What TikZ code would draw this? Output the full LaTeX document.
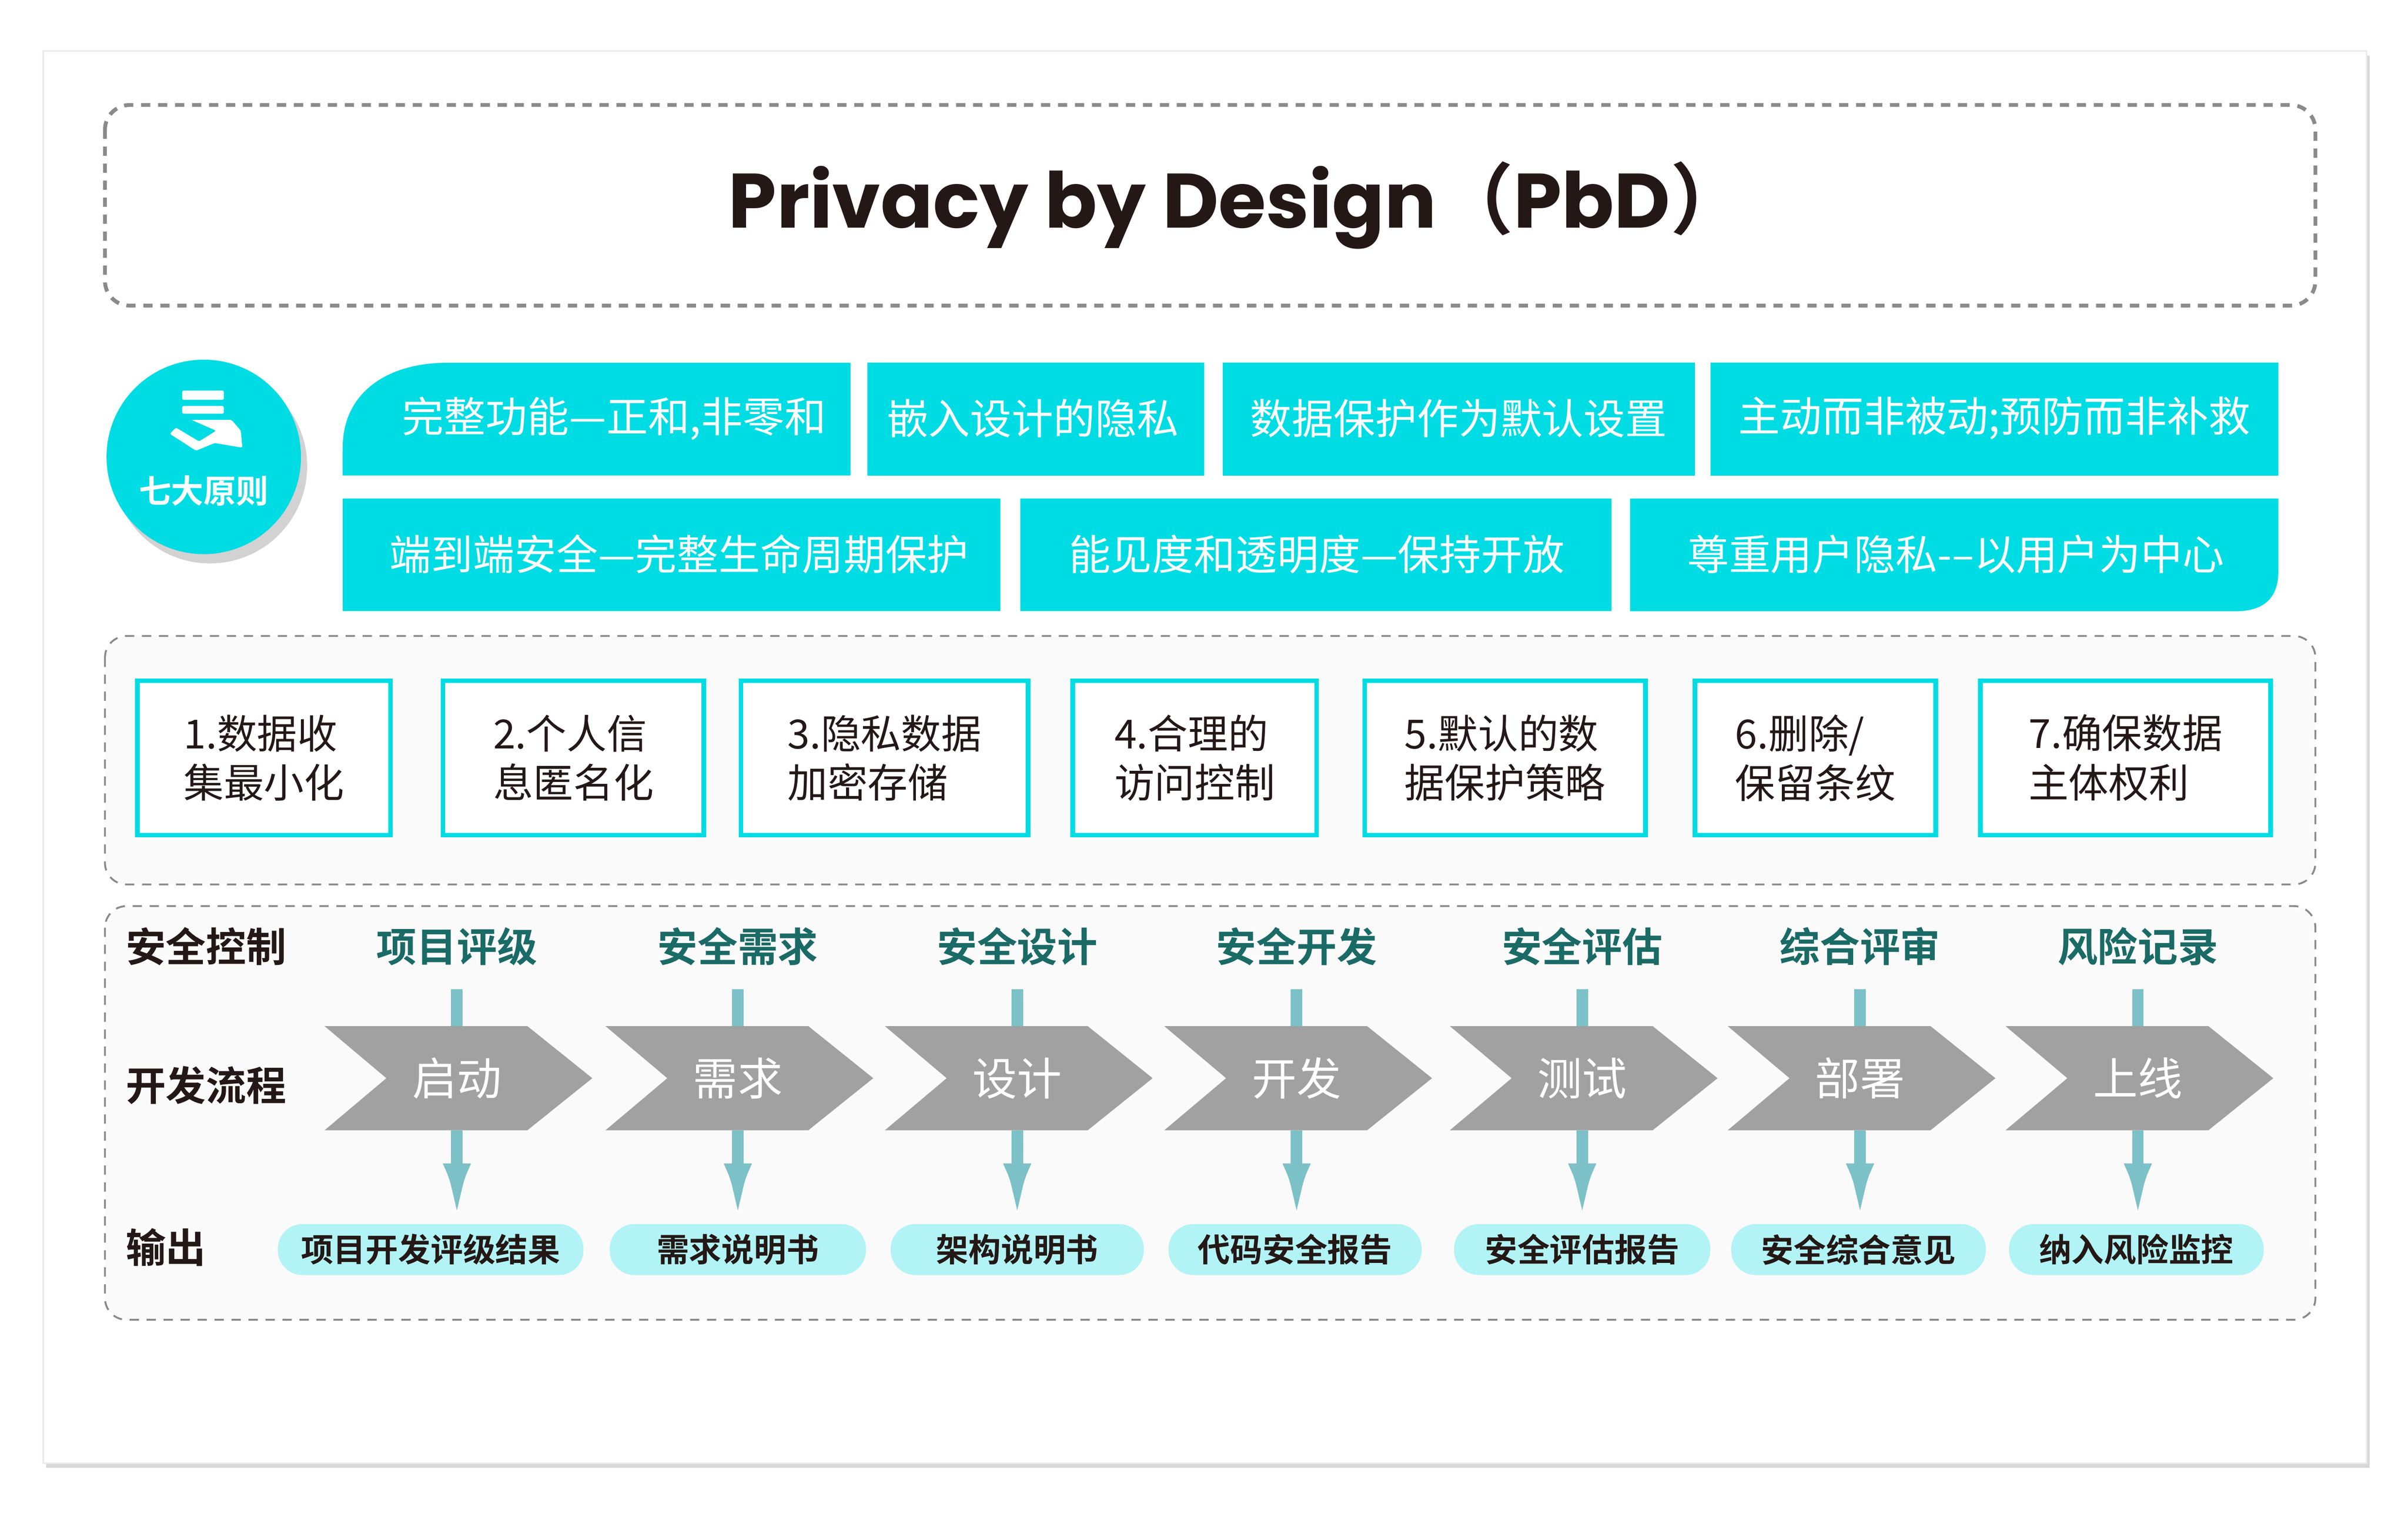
\documentclass[tikz,border=0pt]{standalone}
\usepackage{fontspec}
\setmainfont{Noto Sans CJK SC}[BoldFont={Noto Sans CJK SC Bold}]
\newfontfamily\pop{Poppins}
\usetikzlibrary{shadows,arrows.meta}
\definecolor{cy}{HTML}{00DCE3}
\definecolor{tealt}{HTML}{1A6A66}
\definecolor{chg}{HTML}{A0A1A0}
\definecolor{pillc}{HTML}{B2F3F5}
\definecolor{vl}{HTML}{7CC1C7}
\definecolor{dk}{HTML}{231815}
\definecolor{dg}{HTML}{8A8A8A}
\tikzset{
 panel/.style={draw=dg,dashed,line width=1.2pt,dash pattern=on 6pt off 5pt,rounded corners=14pt,fill=gray!4},
 cytext/.style={text=white,font=\fontsize{27}{30}\selectfont},
 pbox/.style={draw=cy,line width=3pt,fill=white,minimum height=100pt,text=dk,align=left,font=\fontsize{26}{32}\selectfont},
 ctl/.style={text=tealt,font=\bfseries\fontsize{26}{30}\selectfont},
 lab/.style={text=dk,anchor=west,font=\bfseries\fontsize{26}{30}\selectfont},
 chv/.style={minimum width=173pt,minimum height=67pt,inner sep=0pt,text=white,font=\fontsize{29}{30}\selectfont},
 pill/.style={fill=pillc,rounded corners=16pt,minimum height=33pt,inner sep=0pt,text=dk,font=\bfseries\fontsize{21}{24}\selectfont},
 vline/.style={draw=vl,line width=7.5pt},
}
\begin{document}
\begin{tikzpicture}[x=1pt,y=-1pt]
\useasboundingbox (0,0) rectangle (1560,989);
\fill[white] (0,0) rectangle (1560,989);
\fill[white,draw=gray!15,line width=1pt,drop shadow={shadow xshift=2pt,shadow yshift=-3pt,opacity=0.3}] (28,33) rectangle (1533,948);
\draw[dg,line width=2.5pt,dash pattern=on 6pt off 5pt,rounded corners=16pt] (68,68) rectangle (1500,198);
\node[text=dk,font=\bfseries\fontsize{50}{60}\selectfont] (title) at (802,133) {{\pop Privacy by Design}（{\pop PbD}）};
\node[circle,fill=cy,minimum size=126pt,drop shadow={shadow xshift=4pt,shadow yshift=-6pt,opacity=0.35}] (circ) at (132,296) {};
\node[text=white,font=\bfseries\fontsize{21}{24}\selectfont] (qd) at (132,318) {七大原则};
\fill[white,rounded corners=1pt] (118,253) rectangle (145,259);
\fill[white,rounded corners=1pt] (118,263) rectangle (145,268);
\fill[white,rounded corners=1pt] (124,272) -- (150,272) -- (156,279) -- (157,290) -- (139,287) -- (127,292) -- (110,281) -- (114,277) -- (129,286) -- (140,279) -- cycle;
\fill[cy] (222,308) -- (222,290) .. controls (222,255) and (250,235) .. (290,235) -- (551,235) -- (551,308) -- cycle;
\node[cytext] (r1) at (398,271) {完整功能—正和,非零和};
\fill[cy] (562,235) rectangle (780,308);
\node[cytext] (r2) at (669,271) {嵌入设计的隐私};
\fill[cy] (792,235) rectangle (1098,308);
\node[cytext] (r3) at (945,271) {数据保护作为默认设置};
\fill[cy] (1108,235) rectangle (1476,308);
\node[cytext] (r4) at (1292,271) {主动而非被动;预防而非补救};
\fill[cy] (222,323) rectangle (648,396);
\node[cytext] (r5) at (440,359) {端到端安全—完整生命周期保护};
\fill[cy] (661,323) rectangle (1044,396);
\node[cytext] (r6) at (853,359) {能见度和透明度—保持开放};
\fill[cy] (1056,323) -- (1476,323) -- (1476,370) .. controls (1476,388) and (1466,396) .. (1448,396) -- (1056,396) -- cycle;
\node[cytext] (r7) at (1267,359) {尊重用户隐私-–以用户为中心};
\path[panel] (68,412) rectangle (1500,573);
\node[pbox,minimum width=164pt] (p1) at (171,491) {1.数据收\\集最小化};
\node[pbox,minimum width=169pt] (p2) at (371.5,491) {2.个人信\\息匿名化};
\node[pbox,minimum width=186pt] (p3) at (573,491) {3.隐私数据\\加密存储};
\node[pbox,minimum width=158pt] (p4) at (774,491) {4.合理的\\访问控制};
\node[pbox,minimum width=182pt] (p5) at (975,491) {5.默认的数\\据保护策略};
\node[pbox,minimum width=156pt] (p6) at (1176,491) {6.删除/\\保留条纹};
\node[pbox,minimum width=188pt] (p7) at (1377,491) {7.确保数据\\主体权利};
\path[panel] (68,587) rectangle (1500,855);
\node[lab] (l1) at (78,613) {安全控制};
\node[lab] (l2) at (78,703) {开发流程};
\node[lab] (l3) at (78,808) {输出};
\foreach \i/\cx/\px/\ctext/\chtext/\ptext/\pw in {
 1/296/279/项目评级/启动/项目开发评级结果/198,
 2/478/478/安全需求/需求/需求说明书/166,
 3/659/659/安全设计/设计/架构说明书/164,
 4/840/839/安全开发/开发/代码安全报告/164,
 5/1025/1025/安全评估/测试/安全评估报告/166,
 6/1205/1204/综合评审/部署/安全综合意见/165,
 7/1385/1384/风险记录/上线/纳入风险监控/165}{
  \pgfmathsetmacro{\chx}{\cx+1}
  \node[ctl] (c\i) at (\cx,613) {\ctext};
  \node[chv] (h\i) at (\chx,698.5) {};
  \fill[chg] (h\i.north west) -- ([xshift=-42pt]h\i.north east) -- (h\i.east) -- ([xshift=-42pt]h\i.south east) -- (h\i.south west) -- ([xshift=40pt]h\i.west) -- cycle;
  \node[chv] at ([xshift=-1pt]h\i.center) {\chtext};
  \node[pill,minimum width=\pw pt] (o\i) at (\px,809.5) {\ptext};
  \draw[vline] ([yshift=-12pt]c\i.south) -- (h\i.north -| c\i.south);
  \draw[vline,-{Latex[length=42pt,width=17pt]}] (h\i.south -| c\i.south) -- ([yshift=-3pt]o\i.north -| c\i.south);
}
\end{tikzpicture}
\end{document}
